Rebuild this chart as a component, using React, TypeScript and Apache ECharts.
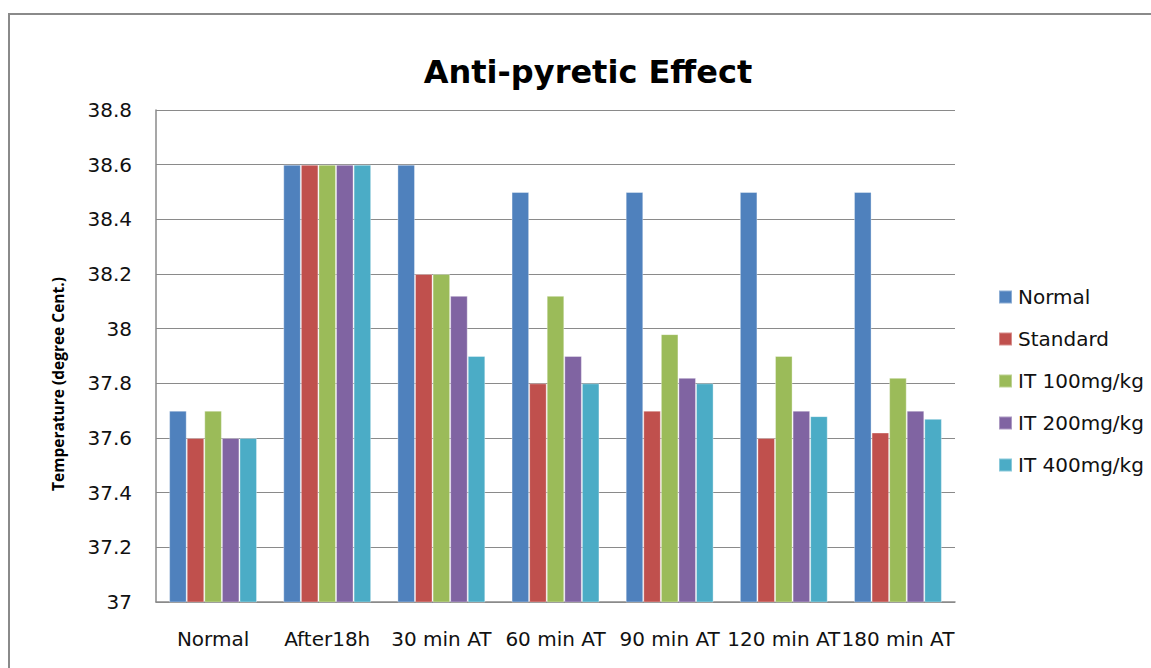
import React, { useEffect, useRef } from "react";
import * as echarts from "echarts";

const categories = ["Normal", "After18h", "30 min AT", "60 min AT", "90 min AT", "120 min AT", "180 min AT"];
const seriesNames = ["Normal", "Standard", "IT 100mg/kg", "IT 200mg/kg", "IT 400mg/kg"];
const normalVals = [37.7, 38.6, 38.6, 38.5, 38.5, 38.5, 38.5];
const standardVals = [37.6, 38.6, 38.2, 37.8, 37.7, 37.6, 37.62];
const it100Vals = [37.7, 38.6, 38.2, 38.12, 37.98, 37.9, 37.82];
const it200Vals = [37.6, 38.6, 38.12, 37.9, 37.82, 37.7, 37.7];
const it400Vals = [37.6, 38.6, 37.9, 37.8, 37.8, 37.68, 37.67];
const colors = ["#4F81BD", "#C0504D", "#9BBB59", "#8064A2", "#4BACC6"];
const yAxisTitle = "Temperature (degree Cent.)";

const FONT = "'DejaVu Sans', sans-serif";
const TITLE_FONT = "'Open Sans', sans-serif";

export default function App() {
  const ref = useRef<HTMLDivElement>(null);
  useEffect(() => {
    document.body.style.margin = "0";
    const chart = echarts.init(ref.current!, null, { renderer: "svg" });
    const data = [normalVals, standardVals, it100Vals, it200Vals, it400Vals];
    chart.setOption({
      animation: false,
      backgroundColor: "#ffffff",
      color: colors,
      title: {
        text: "Anti-pyretic Effect",
        left: 583,
        textAlign: "center",
        top: 51,
        textStyle: { fontFamily: FONT, fontSize: 32, fontWeight: "bold", color: "#000" },
      },
      graphic: [
        {
          type: "rect",
          shape: { x: 9, y: 14, width: 1200, height: 700 },
          style: { fill: "none", stroke: "#8a8a8a", lineWidth: 2 },
          silent: true,
        },
        {
          type: "text",
          x: 58,
          y: 384,
          rotation: Math.PI / 2,
          style: {
            text: yAxisTitle,
            fontFamily: TITLE_FONT,
            fontSize: 15.5,
            fontWeight: "bold",
            fill: "#000",
            align: "center",
            verticalAlign: "middle",
          },
          silent: true,
        },
      ],
      legend: {
        orient: "vertical",
        left: 993,
        top: 281,
        itemWidth: 13,
        itemHeight: 13,
        itemGap: 20,
        icon: "rect",
        textStyle: { fontFamily: FONT, fontSize: 20, lineHeight: 22, color: "#111", padding: [0, 0, 0, 1] },
        data: seriesNames,
      },
      grid: { left: 156, top: 110, width: 799, height: 492, containLabel: false },
      xAxis: {
        type: "category",
        data: categories,
        axisLine: { show: true, lineStyle: { color: "#8a8a8a", width: 1.5 } },
        axisTick: { show: false },
        axisLabel: { fontFamily: FONT, fontSize: 20, color: "#111", margin: 27, interval: 0 },
      },
      yAxis: {
        type: "value",
        min: 37,
        max: 38.8,
        interval: 0.2,
        axisLine: { show: true, lineStyle: { color: "#8a8a8a", width: 1.5 } },
        axisTick: { show: false },
        splitLine: { show: true, lineStyle: { color: "#8a8a8a", width: 1.2 } },
        axisLabel: {
          fontFamily: FONT,
          fontSize: 20,
          color: "#111",
          margin: 24,
          formatter: (v: number) => String(Math.round(v * 10) / 10),
        },
      },
      series: seriesNames.map((name, i) => ({
        name,
        type: "bar",
        data: data[i],
        barGap: "0%",
        barCategoryGap: "23%",
        itemStyle: { color: colors[i], borderColor: "rgba(255,255,255,0.35)", borderWidth: 1 },
      })),
    });
    return () => chart.dispose();
  }, []);
  return <div ref={ref} style={{ width: 1151, height: 668 }} />;
}
